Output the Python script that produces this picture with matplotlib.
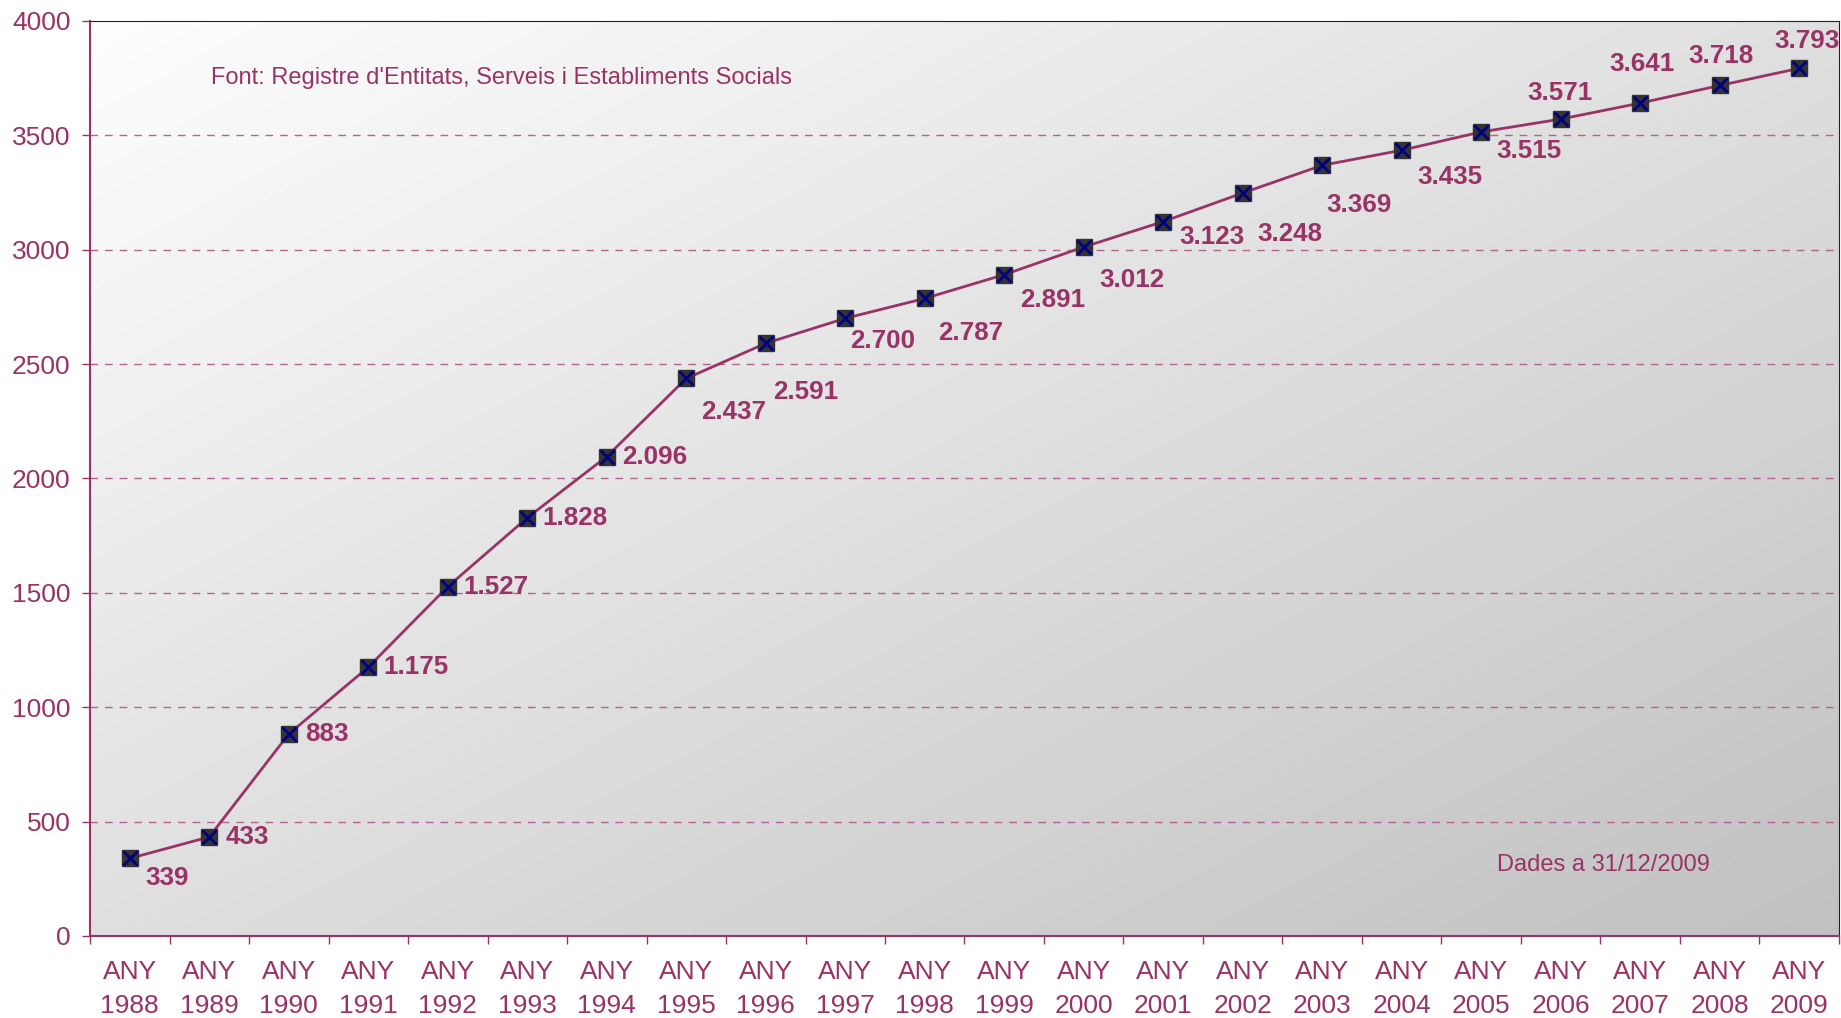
import numpy as np
import matplotlib
matplotlib.use('Agg')
import matplotlib.pyplot as plt

# .----------------------------------------------------------------------------.
# Data: entitats inscrites per any

years = [1988, 1989, 1990, 1991, 1992, 1993, 1994, 1995, 1996, 1997, 1998,
         1999, 2000, 2001, 2002, 2003, 2004, 2005, 2006, 2007, 2008, 2009]
values = [339, 433, 883, 1175, 1527, 1828, 2096, 2437, 2591, 2700, 2787,
          2891, 3012, 3123, 3248, 3369, 3435, 3515, 3571, 3641, 3718, 3793]
tick_labels = ['ANY\n%d' % y for y in years]
y_ticks = [0, 500, 1000, 1500, 2000, 2500, 3000, 3500, 4000]

source_text = "Font: Registre d'Entitats, Serveis i Establiments Socials"
date_text = "Dades a 31/12/2009"

# label placement (offset in points from each marker), as Excel laid them out
label_offsets = [(26.6, -14.4), (27.4, 0), (27.4, 0), (34.6, 0), (34.6, 0),
                 (34.6, 0), (34.6, 0), (33.8, -23.8), (28.8, -35.3),
                 (26.6, -16.6), (33.1, -25.2), (34.6, -18), (34.6, -23.8),
                 (35.3, -10.8), (33.8, -29.5), (26.6, -28.8), (34.6, -19.4),
                 (34.6, -13.7), (-0.7, 18.7), (1.4, 28.1), (0.7, 20.9),
                 (5.8, 19.4)]

colors = {'plum' : '#993366',
          'grid' : '#b0668c',
          'face' : '#333333',
          'cross': '#000080',
         }

plt.rcParams['font.family'] = ['Liberation Sans', 'DejaVu Sans']


def fmt(v):
    return '{:,}'.format(v).replace(',', '.')


def main():
    fig = plt.figure(figsize=(18.41, 10.18), dpi=100)
    ax = fig.add_axes([0.0489, 0.0806, 0.95, 0.8988])

    # diagonal gradient background (white top-left -> gray bottom-right)
    u = np.linspace(0, 1, 300)
    U, V = np.meshgrid(u, u)
    shade = (253 - 61 * (U + V) / 2) / 255.0
    ax.imshow(shade, cmap='gray', vmin=0, vmax=1, extent=[0, 1, 0, 1],
              origin='upper', transform=ax.transAxes, aspect='auto',
              zorder=0, interpolation='bilinear')

    x = np.arange(len(years))
    ax.plot(x, values, color=colors['plum'], linewidth=2.0, zorder=3)
    ax.plot(x, values, linestyle='none', marker='s', markersize=11,
            markerfacecolor=colors['face'], markeredgecolor=colors['face'],
            zorder=4)
    ax.plot(x, values, linestyle='none', marker='x', markersize=9.5,
            markeredgewidth=2, color=colors['cross'], zorder=5)

    for xi, v, off in zip(x, values, label_offsets):
        ax.annotate(fmt(v), (xi, v), xytext=off, textcoords='offset points',
                    ha='center', va='center', fontsize=18.7, fontweight='bold',
                    color=colors['plum'], zorder=6)

    ax.set_xlim(-0.5, len(years) - 0.5)
    ax.set_ylim(0, 4000)

    ax.set_yticks(y_ticks)
    ax.tick_params(axis='y', colors=colors['plum'], labelsize=19,
                   length=6, width=1, pad=8, direction='out')

    ax.set_xticks(x)
    ax.set_xticklabels(tick_labels, linespacing=1.55)
    ax.set_xticks(np.arange(-0.5, len(years), 1), minor=True)
    ax.tick_params(axis='x', which='major', length=0, labelsize=19,
                   labelcolor=colors['plum'], pad=17)
    ax.tick_params(axis='x', which='minor', length=6, width=1,
                   color=colors['plum'])

    for yv in y_ticks[1:-1]:
        ax.axhline(yv, color=colors['grid'], linewidth=1, dashes=(5.5, 5),
                   zorder=1)

    ax.spines['left'].set_color(colors['plum'])
    ax.spines['bottom'].set_color(colors['plum'])
    ax.spines['left'].set_linewidth(1.5)
    ax.spines['bottom'].set_linewidth(1.5)
    ax.spines['top'].set_color('#222222')
    ax.spines['right'].set_color('#222222')

    ax.text(0.069, 0.938, source_text, transform=ax.transAxes, fontsize=17,
            color=colors['plum'], ha='left', va='center')
    ax.text(0.8045, 0.0776, date_text, transform=ax.transAxes, fontsize=17,
            color=colors['plum'], ha='left', va='center')

    fig.savefig('out.png', dpi=100)


if __name__ == '__main__':
    main()
